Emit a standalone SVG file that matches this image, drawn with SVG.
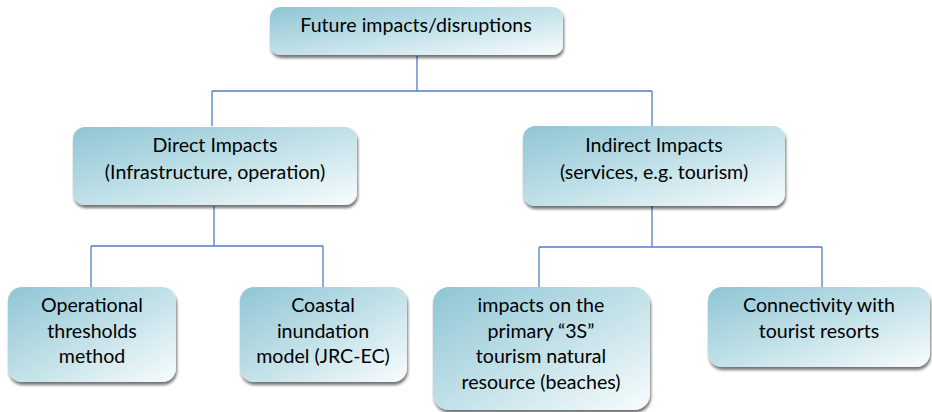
<svg xmlns="http://www.w3.org/2000/svg" width="932" height="412" viewBox="0 0 932 412">
<defs>
<linearGradient id="g" x1="0" y1="0" x2="1" y2="1">
<stop offset="0" stop-color="#8fc5d5"/>
<stop offset="0.55" stop-color="#c6e3ea"/>
<stop offset="1" stop-color="#f8fcfd"/>
</linearGradient>
<filter id="sh" x="-10%" y="-10%" width="125%" height="135%">
<feGaussianBlur in="SourceAlpha" stdDeviation="1.6"/>
<feOffset dx="1" dy="3" result="b"/>
<feComponentTransfer><feFuncA type="linear" slope="0.55"/></feComponentTransfer>
<feMerge><feMergeNode/><feMergeNode in="SourceGraphic"/></feMerge>
</filter>
</defs>
<style>
.box{fill:url(#g);filter:url(#sh)}
.t{font-family:Lato,"Open Sans","Liberation Sans",sans-serif;font-size:19.6px;fill:#000;text-anchor:middle}
.c{fill:none;stroke:#4f7fc4;stroke-width:1.3}
</style>
<g id="connectors">
<path class="c" d="M417 56V91M212 91H652M212 91V126M652 91V126"/>
<path class="c" d="M214 206V246M91 246H323M91 246V287M323 246V287"/>
<path class="c" d="M652 206V247M539 247H822M539 247V287M822 247V287"/>
</g>
<g id="n-future">
<rect class="box" x="270" y="7" width="293" height="48" rx="10"/>
<text class="t" x="416" y="32">Future impacts/disruptions</text>
</g>
<g id="n-direct">
<rect class="box" x="73" y="127" width="284" height="78" rx="12"/>
<text class="t" x="215" y="152">Direct Impacts</text>
<text class="t" x="215" y="179">(Infrastructure, operation)</text>
</g>
<g id="n-indirect">
<rect class="box" x="523" y="126" width="262" height="80" rx="12"/>
<text class="t" x="654" y="152">Indirect Impacts</text>
<text class="t" x="654" y="179">(services, e.g. tourism)</text>
</g>
<g id="n-operational">
<rect class="box" x="8" y="287" width="168" height="95" rx="14"/>
<text class="t" x="92" y="312">Operational</text>
<text class="t" x="92" y="338">thresholds</text>
<text class="t" x="92" y="363">method</text>
</g>
<g id="n-coastal">
<rect class="box" x="240" y="287" width="167" height="95" rx="14"/>
<text class="t" x="323" y="312">Coastal</text>
<text class="t" x="323" y="338">inundation</text>
<text class="t" x="323" y="363">model (JRC-EC)</text>
</g>
<g id="n-beaches">
<rect class="box" x="433" y="287" width="217" height="123" rx="16"/>
<text class="t" x="541" y="312">impacts on the</text>
<text class="t" x="541" y="338">primary “3S”</text>
<text class="t" x="541" y="363">tourism natural</text>
<text class="t" x="541" y="389">resource (beaches)</text>
</g>
<g id="n-connectivity">
<rect class="box" x="708" y="287" width="222" height="80" rx="14"/>
<text class="t" x="819" y="312">Connectivity with</text>
<text class="t" x="819" y="338">tourist resorts</text>
</g>
</svg>
